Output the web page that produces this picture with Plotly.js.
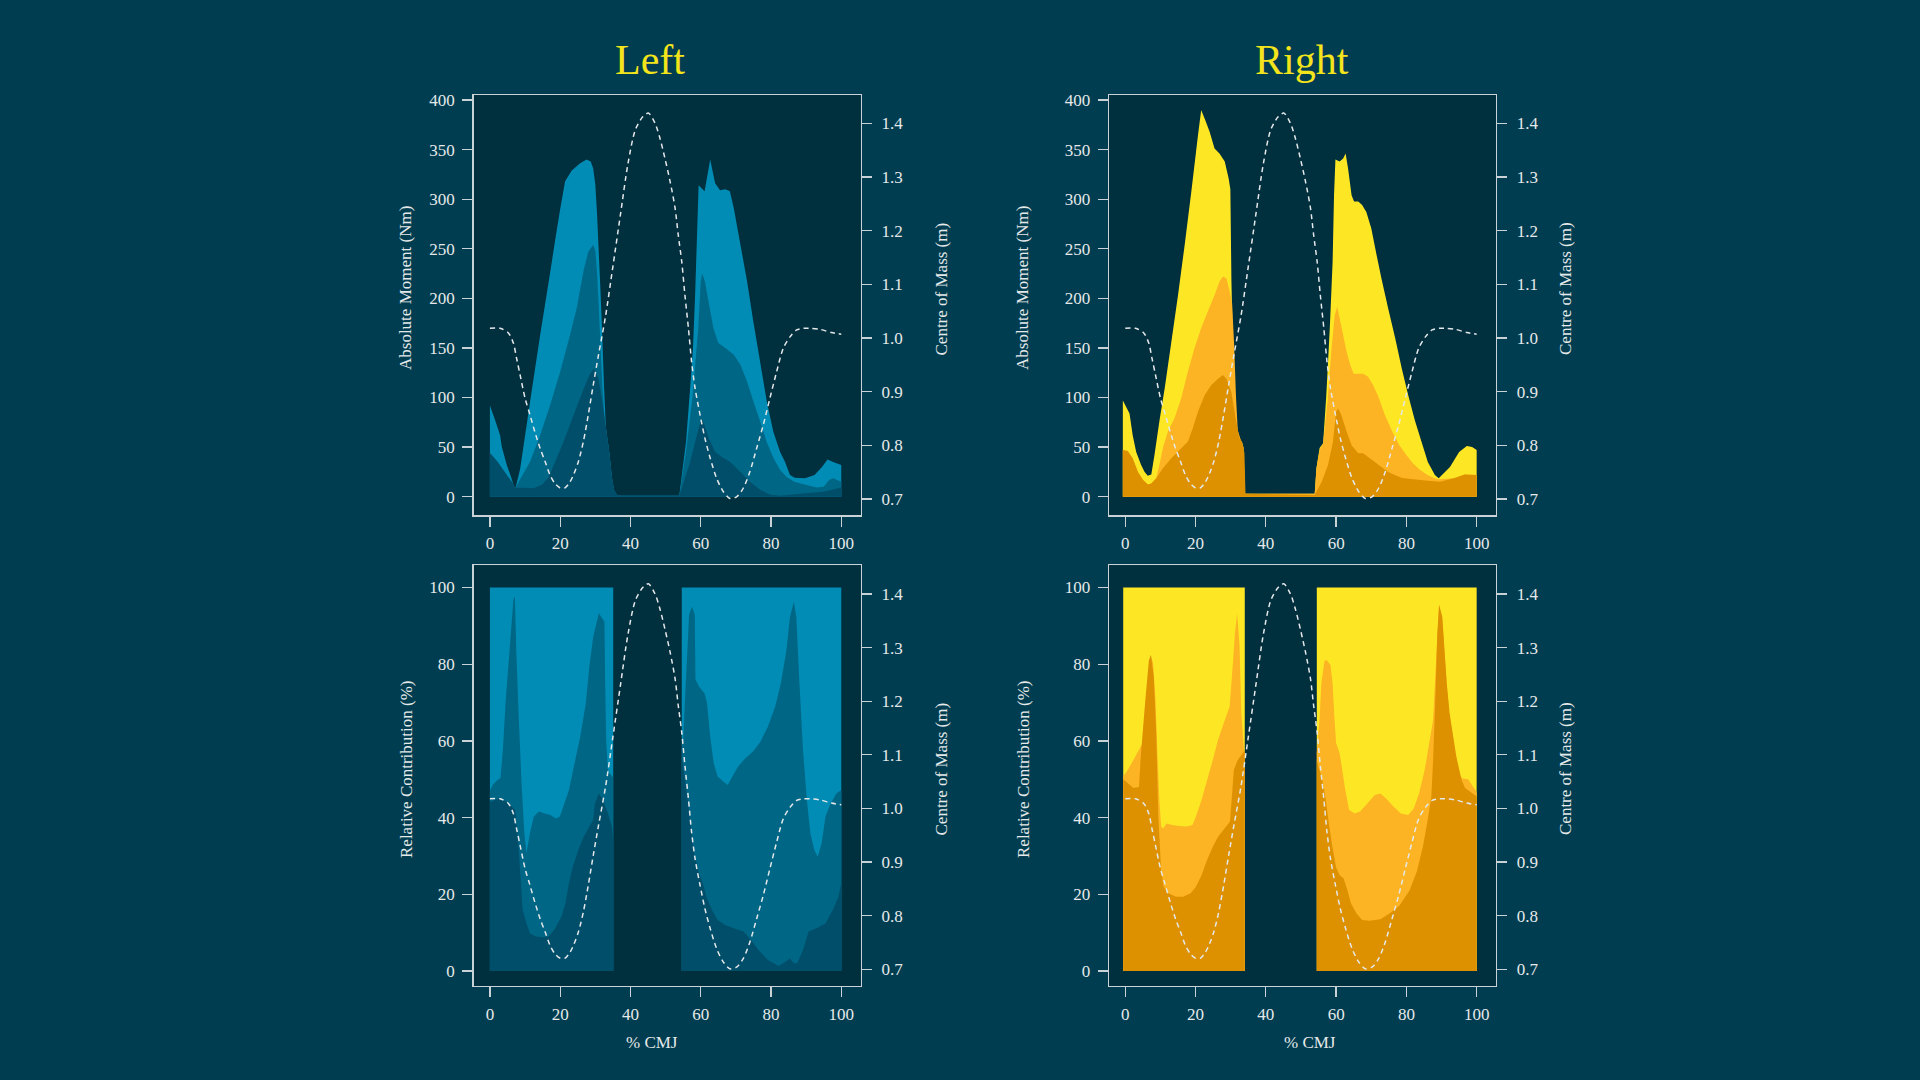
<!DOCTYPE html>
<html>
<head>
<meta charset="utf-8">
<script src="https://cdn.plot.ly/plotly-3.0.1.min.js"></script>
<style>
  html, body { margin: 0; padding: 0; background: #003d50; }
  #plot { width: 1920px; height: 1080px; }
</style>
</head>
<body>
<div id="plot"></div>
<script>
// centre of mass height (m), same jump on every panel
var comX = [0,2.9,5.3,6.7,7.6,8.6,10,11.4,12.8,14.3,15.7,17.1,18.5,19.9,21.4,22.8,23.8,25.2,26.6,28,29.4,30.9,32.9,35,37.2,39.3,41.4,43.5,45.1,47,48.4,49.8,51.3,52.7,53.6,54.6,55.5,56.5,57.4,58.4,59.8,61.2,62.7,64.5,66.4,68.3,70.2,72.1,74,75.9,77.8,79.7,81.6,83.5,85.4,87.3,89.2,91,94,97.2,100];
var comY = [1.018,1.018,1.009,0.99,0.962,0.931,0.888,0.857,0.825,0.794,0.77,0.745,0.729,0.721,0.721,0.732,0.745,0.77,0.807,0.857,0.912,0.968,1.04,1.133,1.232,1.325,1.388,1.412,1.419,1.4,1.372,1.335,1.291,1.242,1.192,1.142,1.08,1.018,0.956,0.906,0.857,0.813,0.776,0.739,0.714,0.701,0.704,0.72,0.751,0.794,0.838,0.888,0.937,0.981,1.002,1.015,1.018,1.018,1.016,1.01,1.007];

// Left - absolute moment (Nm)
var tlTopX = [0,1.5,2.9,3.4,4.8,6,6.7,7.3,8.6,11.4,14.3,17.1,18.5,20,21.4,23.3,25.6,27.5,28.7,29.4,30,30.5,31,31.5,32,32.5,33,34,34.7,35.3,36.1,37,53.9,55.8,57,57.8,58.4,59,59.4,61.1,62.7,64.1,65.5,67,68.3,69.4,71.3,73.2,75,76.9,78.8,80.7,82.6,84,85.4,86.8,89.7,92.4,94.5,96.1,97.7,100];
var tlTopY = [92,77,62,50,32,20,12,9,28,95,163,225,257,290,318,329,336,340,338,331,315,285,245,205,160,110,70,44,20,7,2,1,1,55,110,150,203,270,314,308,340,316,309,310,308,291,254,217,176,136,96,65,45,35,22,19,18.5,22,30,37.6,35,32];
var tlMidX = [0,2,4,6,7.3,9,11.4,14.3,17.1,20,22.8,24.7,26.6,28,29.4,30,30.5,31,31.5,32,32.5,33,34,34.7,35.3,36.1,37,53.9,55.8,57.7,59.3,60,60.4,61.2,62.2,63.6,65,67,69.4,71.3,73.2,75,76.9,78.8,80.7,82.6,84.4,86.6,89.8,93,95,96.6,97.7,100];
var tlMidY = [44,36,26,16,9,20,35,62,92,126,163,190,227,247,254,248,225,190,150,110,85,70,44,20,7,2,1,1,45,102,170,217,225,217,197,170,155,150,143,133,116,96,76,55,39,27,20,15,12,9.4,10,17,18.5,15];
var tlLowX = [0,2,4,6,7.3,9.5,12.4,14.8,16.6,17.6,20.9,23.8,26.6,28.5,29.6,30.8,31.9,33,34,34.7,35.3,36.1,37,53.9,57,58.9,60.2,60.9,62.3,64.1,66,68.4,71.3,74,76.9,79.8,82.6,89.8,95,100];
var tlLowY = [44,36,26,16,9,9,8.4,12,19,27,55,82,108,124,129,120,97,70,44,20,7,2,1,1,35,62,79,74,59,45,40,35,25,15,7,2,1,3.4,5,9.4];

// Right - absolute moment (Nm)
var trTopX = [-0.7,1.2,2.1,3.1,4.5,5.5,6.4,7.4,8.3,9.7,11.2,13.1,15,16.9,18.8,20.7,21.6,22.6,24,25.4,26.8,28.3,29.4,29.9,30.2,30.8,31.5,32.4,33.2,33.6,34.1,53.9,54.4,55.3,56.3,57.2,58.2,59,59.4,59.8,61,62,62.7,63.4,64.4,65.1,66.3,67.4,68.6,70,71.5,72.9,74.8,76.8,78.7,80.5,82.4,84.3,86.1,88.1,89.2,92.4,95,97.2,98.7,100];
var trTopY = [97,84,62,45,32,25,21,22.5,42,76,109,156,203,254,308,365,390,381,368,351,346,338,321,310,218,118,64,57,55.5,50,3,3,28.6,49,54,102,170,237,304,340,338,341,346,331,304,297.5,297.5,294,287,270.6,244,220,190,160,129,102.5,77,55.5,35,22,18.5,30,45,51,50,47];
var trMidX = [-0.7,0.7,2.1,3.6,5,6.4,7.4,8.8,9.7,10.7,12.1,14,15.9,17.8,19.7,21.6,23.5,25.4,26.8,27.8,28.8,29.7,30.4,31,31.5,32,32.9,33.6,34.1,53.9,54.4,55.3,56.3,57.7,58.7,59.6,60.3,61,62,63,64,65,67.7,69.1,70.5,72,73.9,76,78,80,81.9,83.9,86,88,89.2,93.5,96.6,100];
var trMidY = [47,46,38.7,25,17,12.4,13.4,18.5,32,49,65.5,79,99,126,150,170,187,203,217,222,220,207,195,151,101,67,57,50,3,3,28.6,47,54,102,150,183,191.6,180,163,146,133,124,124,121,112.6,101,82,65.5,52,42,33.6,27,22,18.5,17.5,18.5,22.5,22];
var trLowX = [-0.7,0.7,2.1,3.6,5,6.4,7.4,8.8,10.7,13.1,15.4,17.8,19.2,20.7,22.6,24.5,26.4,27.8,28.8,30.2,31.3,32.4,33.2,33.9,34.2,53.9,55.9,57.7,59.1,60,60.6,61.5,63,64.4,66.3,67.7,69.1,71,72.9,74.8,76.7,78.6,80.5,83.4,86.2,89.5,93.5,96.6,100];
var trLowY = [47,46,38.7,25,17,12.4,13.4,18.5,28.6,38.7,47,55.5,69,86,102.5,112.6,119,122.7,119,105,81,60,55.5,44,3,1.7,15,32,55.5,86,89,82,65.5,52,43.7,43.7,40,35,30,25,22,19,18,17,16,15,18.5,22.5,22];

// Left - relative contribution (%), null = flight phase
var blTopX = [0,35.1,45,54.6,100];
var blTopY = [100,100,null,100,100];
var blMidX = [0,0.8,1.9,3,3.7,4.5,5.6,6.7,7.1,7.5,8.2,9,9.8,10.4,11.4,12.5,14,15.6,17.2,18.8,19.9,20.9,22.5,24.1,25.7,27.3,28.3,29.4,31,32.6,32.8,33.1,33.6,35.1,45,54.6,55,55.8,56.7,57.5,58.3,58.5,59.5,61.1,61.8,62.7,63.7,64.8,66.4,67.7,69,70.6,72.7,74.8,77,79.1,81.2,82.8,84.4,85.4,86.5,87.2,88.1,89.1,90.2,91.2,92.3,93.3,94.4,95.5,97,98.6,100];
var blMidY = [47,48.5,49.6,50.3,57.7,70.7,83.7,96.8,97.7,83.7,66.3,49,36,30.7,36,40.3,41.6,41.1,40.7,39.8,40.3,42.9,47.2,54.2,61.1,69.8,79.4,87.2,93.3,91.1,75,60,52,50.5,null,58,60,76,93,95,93,76,74.2,72.4,69.8,61.1,54.2,50.7,49.4,48.5,50.7,53.3,55.5,57.2,59.8,63.7,69,75,83.7,92.4,96.3,92.4,75,57.7,44.6,35.9,31.6,29.8,33.3,40.3,43.7,46.3,47.2];
var blLowX = [0,2.4,5,7.2,8.2,9.3,10.4,11.4,13,15.1,16.7,18.3,20.4,21.5,22.5,23.6,25.2,26.7,28.3,29.4,29.9,31,32,33.6,34.7,35.1,45,54.6,56.3,57.9,59.5,60.6,61.6,63.2,64.8,66.9,69.6,72.2,74.3,76.4,79.1,82.2,83.8,85.4,86.5,87.5,89.1,90.7,92.8,95.5,97.6,99.2,100];
var blLowY = [44,45,44,42,31.6,16,12.4,9.8,9,8.8,9,10.7,14.2,17.7,22.9,27.2,31.6,35,37.7,39.4,43.7,46.3,45,41.1,37.7,33.3,null,56,44.6,31.6,25.5,22.9,19.4,15.9,13.3,12,11.1,10.3,8.1,5.5,2.9,1.3,2.2,3.3,2,2,5.5,10.3,11.1,12.4,15.9,19.4,22.9];

// Right - relative contribution (%)
var brTopX = [-0.6,34,45,54.5,100];
var brTopY = [100,100,null,100,100];
var brMidX = [-0.6,0.7,2.3,3.9,4.9,5.7,6.5,7.2,7.9,8.6,9.1,9.7,10.2,10.7,11.8,13.3,15.4,17.5,19.1,20.1,21.7,23.3,24.9,26.4,28,29.7,30.6,31.2,31.8,32.5,33,33.8,34,45,54.5,55.3,55.8,56.7,57.4,58.4,59,59.5,60,61,61.6,62.6,63.7,65.3,66.8,68.9,71,72.6,74.2,76.3,78.4,80.5,82.1,83.6,85.2,86.8,87.6,88.6,89.3,90.2,91.5,92.3,93.1,94.6,95.9,97.6,99,100];
var brMidY = [50.7,52.4,55,57.7,59.4,66.3,76.8,82.4,80.3,70.7,57.7,44.6,37.7,37.2,38.5,38.1,37.8,37.7,38.1,40.3,44.6,49.8,55,60.3,64.6,69,80,88,93.2,85,67.6,57.2,57,null,57,66,75,81,81,79.8,75,66.3,59.4,56.8,53.3,47.2,42,41.1,41.6,43.7,45.9,46.3,45,42.9,41.1,40.7,42.4,46.3,52.4,61.1,65.5,83.7,95.5,92,74,66,60,52,50.2,50,48,46.7];
var brLowX = [-0.6,2.3,3.9,4.4,5.7,6.7,7.3,8.1,8.8,9.4,10.2,10.9,12.3,14.4,16.5,18.6,20.1,21.7,23.3,24.9,26.4,28.7,29.8,30.9,32,34,45,54.5,56,57,58,59,60,61,62.1,63.2,64.2,65.8,67.4,69.5,72.6,75.2,78,80.9,83,84.7,86,87.1,87.6,88.2,88.8,89.3,90.2,91.5,92.3,94.2,95.7,96.7,100];
var brLowY = [50,47.7,48,56,70.7,81,82.4,76.8,62,40.3,26.3,22,20.3,19.4,19.4,20.3,22,25,29,32.4,35,37.7,39,52.5,55,57.6,null,55,50,45,38,32,27,25,24.2,21.1,17.7,15,13.3,13.1,13.5,15,17,21,26,32.4,39,45.5,55,70,88,95.5,92.4,75,67.2,56,49.8,47.7,45.5];

var xTicks = [0, 20, 40, 60, 80, 100];
var momTicks = [0, 50, 100, 150, 200, 250, 300, 350, 400];
var relTicks = [0, 20, 40, 60, 80, 100];
var comTicks = [0.7, 0.8, 0.9, 1.0, 1.1, 1.2, 1.3, 1.4];

var blues = ["#008cb4", "#006685", "#004e69"];
var yellows = ["#fde725", "#fcb324", "#dd9100"];

var W = 1920, H = 1080;
function px(x) { return x / W; }
function py(y) { return 1 - y / H; }

// fill "tozeroy" bridges null gaps, so each stance block becomes its own trace
function area(x, y, color, xa, ya) {
  var out = [], sx = [], sy = [];
  for (var i = 0; i <= x.length; i++) {
    if (i === x.length || y[i] === null) {
      if (sx.length) {
        out.push({x: sx, y: sy, type: "scatter", mode: "none", fill: "tozeroy",
                  fillcolor: color, xaxis: xa, yaxis: ya, hoverinfo: "skip"});
      }
      sx = []; sy = [];
    } else {
      sx.push(x[i]); sy.push(y[i]);
    }
  }
  return out;
}
function com(xa, ya) {
  return [{x: comX, y: comY, type: "scatter", mode: "lines", xaxis: xa, yaxis: ya,
          line: {color: "#e4e8ea", width: 1.5, dash: "5px,4px", shape: "spline", smoothing: 0.8},
          hoverinfo: "skip"}];
}

var data = [].concat(
  area(tlTopX, tlTopY, blues[0], "x", "y"),
  area(tlMidX, tlMidY, blues[1], "x", "y"),
  area(tlLowX, tlLowY, blues[2], "x", "y"),
  com("x", "y2"),
  area(trTopX, trTopY, yellows[0], "x2", "y3"),
  area(trMidX, trMidY, yellows[1], "x2", "y3"),
  area(trLowX, trLowY, yellows[2], "x2", "y3"),
  com("x2", "y4"),
  area(blTopX, blTopY, blues[0], "x3", "y5"),
  area(blMidX, blMidY, blues[1], "x3", "y5"),
  area(blLowX, blLowY, blues[2], "x3", "y5"),
  com("x3", "y6"),
  area(brTopX, brTopY, yellows[0], "x4", "y7"),
  area(brMidX, brMidY, yellows[1], "x4", "y7"),
  area(brLowX, brLowY, yellows[2], "x4", "y7"),
  com("x4", "y8")
);

var lineCol = "#c9d3d7";
var tickFont = {family: "Liberation Serif, serif", size: 17, color: "#e6e9ea"};

function xax(dom, anchor) {
  return {domain: dom, anchor: anchor, range: [-4.64, 105.5], tickvals: xTicks,
          showline: true, mirror: true, linecolor: lineCol, linewidth: 1.4,
          ticks: "outside", ticklen: 10, tickwidth: 1.3, tickcolor: lineCol,
          showgrid: false, zeroline: false, tickfont: tickFont, ticklabelstandoff: 2};
}
function yax(dom, anchor, range, vals) {
  return {domain: dom, anchor: anchor, range: range, tickvals: vals,
          showline: true, mirror: true, linecolor: lineCol, linewidth: 1.4,
          ticks: "outside", ticklen: 10, tickwidth: 1.3, tickcolor: lineCol,
          showgrid: false, zeroline: false, tickfont: tickFont, ticklabelstandoff: 4};
}
function yr(over, anchor, range) {
  return {overlaying: over, anchor: anchor, side: "right", range: range, tickvals: comTicks,
          tickformat: ".1f", showline: true, linecolor: lineCol, linewidth: 1.4,
          ticks: "outside", ticklen: 10, tickwidth: 1.3, tickcolor: lineCol,
          showgrid: false, zeroline: false, tickfont: tickFont, ticklabelstandoff: 6};
}

var colL = [px(473.6), px(860.6)];
var colR = [px(1109), px(1496)];
var rowT = [py(515.3), py(95)];
var rowB = [py(986), py(565.3)];

var momRange = [-18.75, 405];
var relRange = [-3.9, 105.8];
var comTop = [0.6696, 1.4527];
var comBot = [0.6689, 1.4535];

var labFont = {family: "Liberation Serif, serif", size: 17, color: "#e6e9ea"};
function lab(text, x, y, rot) {
  return {text: text, xref: "paper", yref: "paper", x: px(x), y: py(y),
          xanchor: "center", yanchor: "middle", showarrow: false,
          textangle: rot || 0, font: labFont};
}
var titleFont = {family: "Liberation Serif, serif", size: 42, color: "#f3e41c"};

var layout = {
  width: W, height: H,
  margin: {l: 0, r: 0, t: 0, b: 0},
  paper_bgcolor: "#003d50",
  plot_bgcolor: "#002f3e",
  showlegend: false,
  hovermode: false,
  xaxis: xax(colL, "y"),
  yaxis: yax(rowT, "x", momRange, momTicks),
  yaxis2: yr("y", "x", comTop),
  xaxis2: xax(colR, "y3"),
  yaxis3: yax(rowT, "x2", momRange, momTicks),
  yaxis4: yr("y3", "x2", comTop),
  xaxis3: xax(colL, "y5"),
  yaxis5: yax(rowB, "x3", relRange, relTicks),
  yaxis6: yr("y5", "x3", comBot),
  xaxis4: xax(colR, "y7"),
  yaxis7: yax(rowB, "x4", relRange, relTicks),
  yaxis8: yr("y7", "x4", comBot),
  annotations: [
    {text: "Left", xref: "paper", yref: "paper", x: px(650), y: py(60), xanchor: "center",
     yanchor: "middle", showarrow: false, font: titleFont},
    {text: "Right", xref: "paper", yref: "paper", x: px(1302), y: py(60), xanchor: "center",
     yanchor: "middle", showarrow: false, font: titleFont},
    lab("Absolute Moment (Nm)", 406, 288, -90),
    lab("Centre of Mass (m)", 940.5, 289, -90),
    lab("Absolute Moment (Nm)", 1023, 288, -90),
    lab("Centre of Mass (m)", 1565, 289, -90),
    lab("Relative Contribution (%)", 406, 769, -90),
    lab("Centre of Mass (m)", 940.5, 769, -90),
    lab("Relative Contribution (%)", 1023, 769, -90),
    lab("Centre of Mass (m)", 1565, 769, -90),
    lab("% CMJ", 652, 1042),
    lab("% CMJ", 1310, 1042)
  ]
};

Plotly.newPlot("plot", data, layout, {staticPlot: true, displayModeBar: false});
</script>
</body>
</html>
